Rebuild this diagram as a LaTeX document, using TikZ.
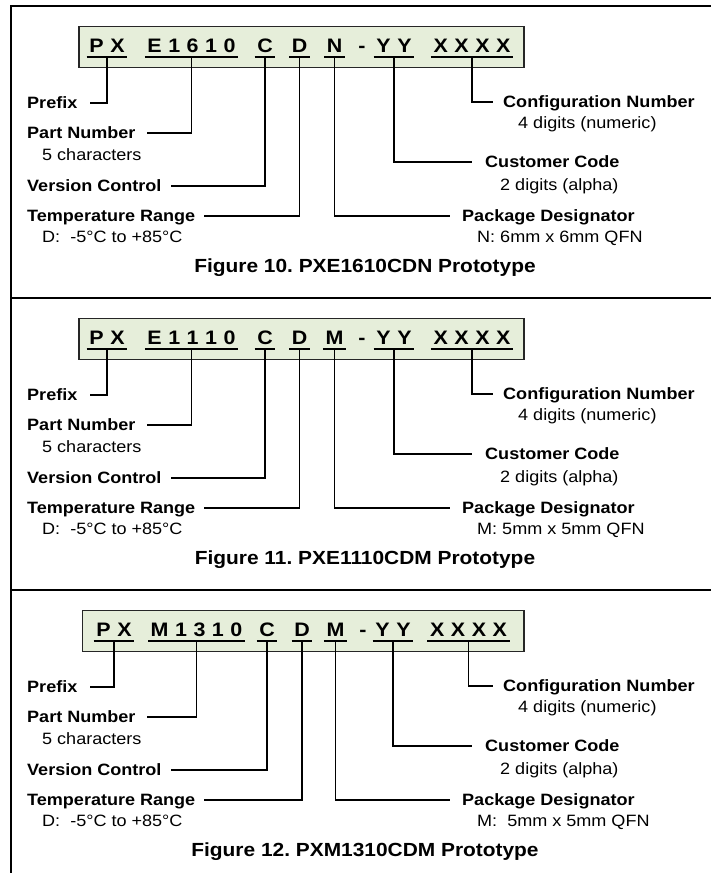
\documentclass[tikz,border=0pt]{standalone}
\usepackage{fontspec}
\setmainfont{Liberation Sans}[FakeStretch=1.1]
\usetikzlibrary{calc}
\definecolor{boxgreen}{RGB}{230,238,218}
\newcommand\lsp{\kern6.5pt\relax}
\tikzset{
  frame/.style={line width=2.5pt},
  conn/.style={line width=1.6pt},
  lbl/.style={font=\bfseries\fontsize{16.4}{19}\selectfont, anchor=west, inner sep=0pt, text height=11.7pt, text depth=0pt},
  sublbl/.style={font=\fontsize{16.4}{19}\selectfont, anchor=west, inner sep=0pt, text height=11.7pt, text depth=0pt},
  codebox/.style={fill=boxgreen, draw=black!85, line width=1.5pt, inner sep=0pt, anchor=north west},
  grp/.style={font=\bfseries\fontsize{19.5}{23}\selectfont, inner xsep=2.5pt, inner ysep=0pt, anchor=base},
  capt/.style={font=\bfseries\fontsize{19}{23}\selectfont, anchor=center, inner sep=0pt},
}
% #1 id, #2 y0, #3 part text, #4 package letter, #5 package desc, #6 caption
\newcommand\codepanel[6]{%
  \begin{scope}[shift={(0,#2)}]
    \node[codebox, minimum width=523pt-\cbx pt, minimum height=41pt] (box#1) at (\cbx,19.5) {};
    \node[grp] (px#1) at (\cxA,46) {P\lsp X};
    \node[grp] (part#1) at (\cxB,46) {#3};
    \node[grp] (ver#1) at (\cxC,46) {C};
    \node[grp] (tmp#1) at (\cxD,46) {D};
    \node[grp] (pkg#1) at (\cxE,46) {#4};
    \node[grp] (dash#1) at (\cxH,46) {-};
    \node[grp] (yy#1) at (\cxF,46) {Y\lsp Y};
    \node[grp] (xx#1) at (\cxG,46) {X\lsp X\lsp X\lsp X};
    \foreach \g in {px,part,ver,tmp,pkg,yy,xx}{
      \draw[conn] ($(\g#1.base west)+(0,4.7)$) -- ($(\g#1.base east)+(0,4.7)$);
    }
    \node[lbl] (pre#1) at (27,97) {Prefix};
    \node[lbl] (pn#1) at (27,127) {Part Number};
    \node[sublbl] (pns#1) at (42,149) {5 characters};
    \node[lbl] (vc#1) at (27,180) {Version Control};
    \node[lbl] (tr#1) at (27,210) {Temperature Range};
    \node[sublbl] (trs#1) at (42,231) {D:\ \ -5°C to +85°C};
    \node[lbl] (cfg#1) at (503,96) {Configuration Number};
    \node[sublbl] (cfgs#1) at (518,117) {4 digits (numeric)};
    \node[lbl] (cc#1) at (485,156) {Customer Code};
    \node[sublbl] (ccs#1) at (500,179) {2 digits (alpha)};
    \node[lbl] (pd#1) at (462,210) {Package Designator};
    \node[sublbl] (pds#1) at (477,231) {#5};
    \draw[conn] ($(px#1.base)+(0,4.7)$) |- ($(pre#1.east)+(12,0)$);
    \draw[conn] ($(part#1.base)+(0,4.7)$) |- ($(pn#1.east)+(11,0)$);
    \draw[conn] ($(ver#1.base)+(0,4.7)$) |- ($(vc#1.east)+(9,0)$);
    \draw[conn] ($(tmp#1.base)+(0,4.7)$) |- ($(tr#1.east)+(9,0)$);
    \draw[conn] ($(pkg#1.base)+(0,4.7)$) |- ($(pd#1.west)+(-12,0)$);
    \draw[conn] ($(yy#1.base)+(0,4.7)$) |- ($(cc#1.west)+(-13,0)$);
    \draw[conn] ($(xx#1.base)+(0,4.7)$) |- ($(cfg#1.west)+(-10,0)$);
    \node[capt] (cap#1) at (365,262) {#6};
  \end{scope}
}
\begin{document}
\frenchspacing
\begin{tikzpicture}[x=1pt,y=-1pt]
  \useasboundingbox (0,0) rectangle (711,873);
  \draw[frame] (11,873) -- (11,6) -- (711,6);
  \draw[frame] (11,298) -- (711,298);
  \draw[frame] (11,590) -- (711,590);
  \def\cbx{78}\def\cxA{107}\def\cxB{191.5}\def\cxC{265}\def\cxD{299.5}\def\cxE{334.5}\def\cxF{394}\def\cxG{472}\def\cxH{362}
  \codepanel{a}{6}{E\lsp 1\lsp 6\lsp 1\lsp 0}{N}{N: 6mm x 6mm QFN}{Figure 10. PXE1610CDN Prototype}
  \codepanel{b}{298}{E\lsp 1\lsp 1\lsp 1\lsp 0}{M}{M: 5mm x 5mm QFN}{Figure 11. PXE1110CDM Prototype}
  \def\cbx{81.5}\def\cxA{114}\def\cxB{196.5}\def\cxC{267}\def\cxD{302}\def\cxE{335.5}\def\cxF{393}\def\cxG{468.5}\def\cxH{363}
  \codepanel{c}{590}{M\lsp 1\lsp 3\lsp 1\lsp 0}{M}{M:\ \ 5mm x 5mm QFN}{Figure 12. PXM1310CDM Prototype}
\end{tikzpicture}
\end{document}
